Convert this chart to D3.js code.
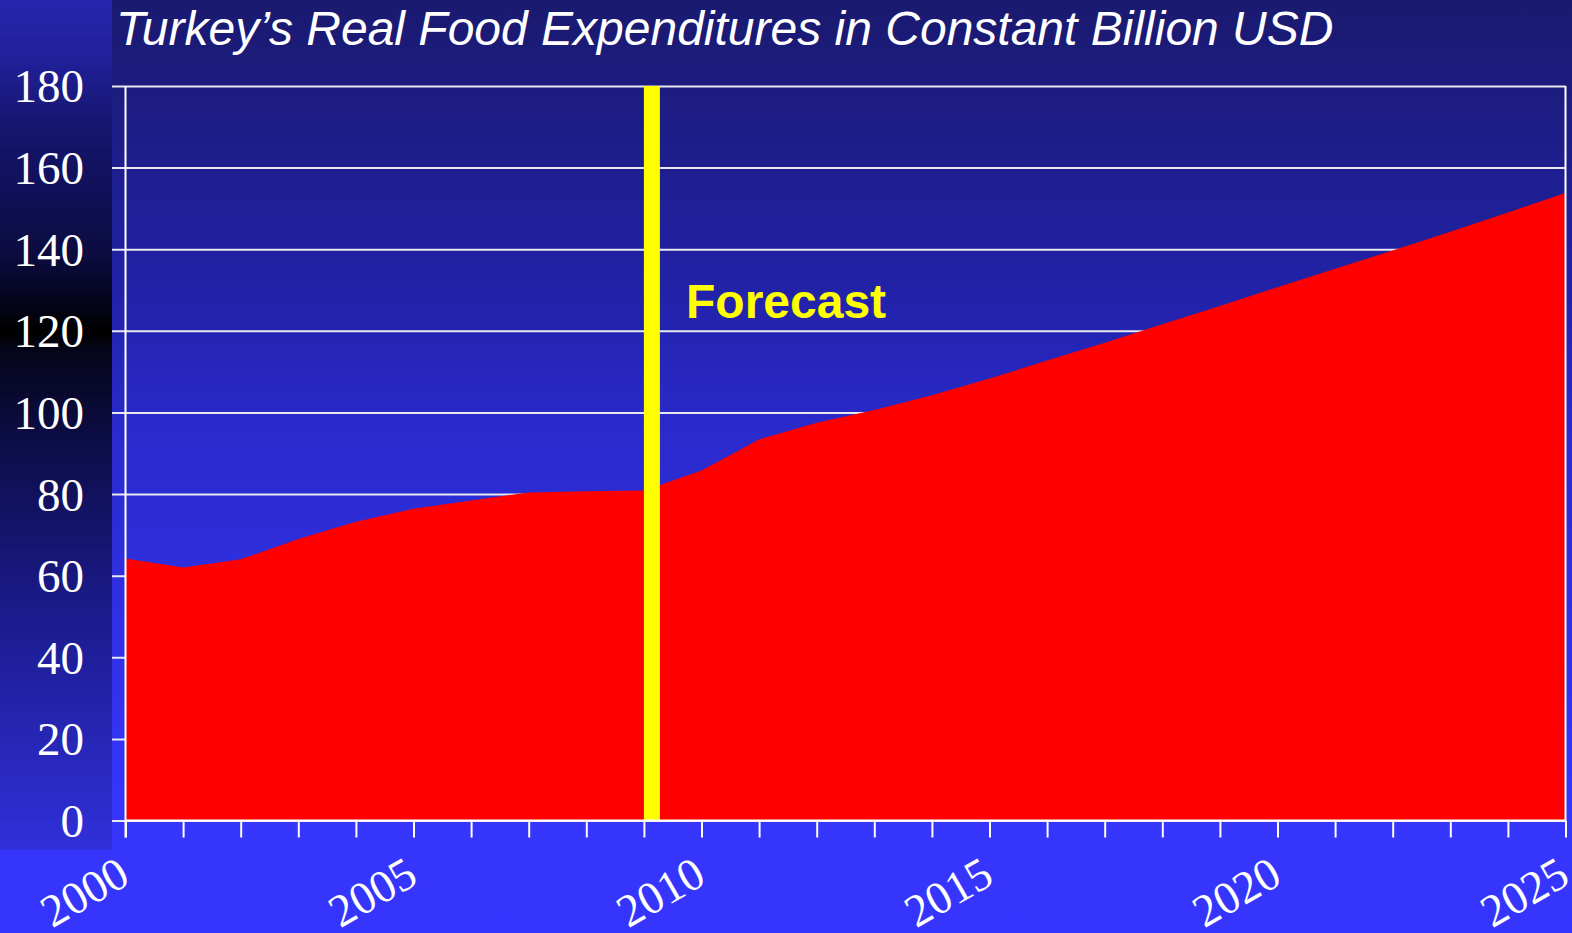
<!DOCTYPE html>
<html>
<head>
<meta charset="utf-8">
<script src="https://cdn.jsdelivr.net/npm/d3@7"></script>
<style>
    html, body { margin: 0; padding: 0; background: #1a1a70; }
    svg { display: block; }
</style>
</head>
<body>
<div id="chart"></div>
<script>
// data
const years = [2000, 2001, 2002, 2003, 2004, 2005, 2006, 2007, 2008, 2009, 2010, 2011, 2012,
               2013, 2014, 2015, 2016, 2017, 2018, 2019, 2020, 2021, 2022, 2023, 2024, 2025];
const expenditures = [64.2, 62.0, 64.0, 69.0, 73.2, 76.4, 78.4, 80.4, 80.7, 80.9, 85.8, 93.4, 97.5,
                      100.6, 104.2, 108.3, 112.7, 117.1, 121.6, 126.1, 130.7, 135.2, 139.7, 144.3, 149.0, 153.8];
const yTicks = [0, 20, 40, 60, 80, 100, 120, 140, 160, 180];
const labelYears = [2000, 2005, 2010, 2015, 2020, 2025];
const forecastStart = 2009;
const titleText = "Turkey\u2019s Real Food Expenditures in Constant Billion USD";
const forecastText = "Forecast";

const width_num = 1572,
    height_num = 933,
    plotLeft = 125.5,
    plotRight = 1565.5,
    plotTop = 86,
    plotBottom = 820.5,
    stripWidth = 112,
    stripHeight = 850,
    serif = "'Liberation Serif', 'Times New Roman', serif",
    sans = "'Liberation Sans', Arial, sans-serif";

let svg = d3.select("#chart")
    .append("svg")
    .attr("width", width_num)
    .attr("height", height_num);

// gradients for background and left strip
let defs = svg.append("defs");
let bgGrad = defs.append("linearGradient")
    .attr("id", "bgGrad")
    .attr("x1", 0).attr("y1", 0).attr("x2", 0).attr("y2", 1);
[[0, "#1a1a70"], [0.1, "#1c1c80"], [0.32, "#2222aa"], [0.46, "#2a2acc"],
 [0.6, "#2e2edc"], [0.85, "#3535fa"], [1, "#3535ff"]].forEach(s => {
    bgGrad.append("stop").attr("offset", s[0]).attr("stop-color", s[1]);
});
let stripGrad = defs.append("linearGradient")
    .attr("id", "stripGrad")
    .attr("x1", 0).attr("y1", 0).attr("x2", 0).attr("y2", 1);
[[0, "#2626ae"], [0.07, "#20209a"], [0.15, "#16166e"], [0.22, "#10105a"], [0.3, "#0c0c40"],
 [0.35, "#050520"], [0.39, "#000000"], [0.41, "#050518"], [0.52, "#0d0d48"],
 [0.72, "#1b1b8c"], [1, "#3030da"]].forEach(s => {
    stripGrad.append("stop").attr("offset", s[0]).attr("stop-color", s[1]);
});

svg.append("rect")
    .attr("width", width_num)
    .attr("height", height_num)
    .attr("fill", "url(#bgGrad)");

svg.append("rect")
    .attr("width", stripWidth)
    .attr("height", stripHeight)
    .attr("fill", "url(#stripGrad)");

// title
svg.append("text")
    .attr("x", 116)
    .attr("y", 45)
    .attr("fill", "#ffffff")
    .style("font-family", sans)
    .style("font-style", "italic")
    .style("font-size", "48px")
    .text(titleText);

// scales
let x = d3.scaleLinear()
    .domain([2000, 2025])
    .range([plotLeft, plotRight]);

let y = d3.scaleLinear()
    .domain([0, 180])
    .range([plotBottom, plotTop]);

// y grid + labels
let yAxis = svg.append("g")
    .attr("class", "axis")
    .attr("transform", "translate(" + stripWidth + ",0)")
    .call(d3.axisLeft(y).tickValues(yTicks).tickSize(-(plotRight - stripWidth)).tickPadding(28));
yAxis.select(".domain").attr("display", "none");
yAxis.selectAll("line")
    .attr("stroke", "#e8e8f0")
    .attr("stroke-width", 2);
yAxis.selectAll("text")
    .attr("fill", "#ffffff")
    .attr("dy", "0.34em")
    .style("font-family", serif)
    .style("font-size", "47px");

// area
let area = d3.area()
    .x((d, i) => x(years[i]))
    .y0(y(0))
    .y1(d => y(d));

svg.append("path")
    .datum(expenditures)
    .attr("fill", "#ff0000")
    .attr("d", area);

// forecast marker
svg.append("rect")
    .attr("x", x(forecastStart))
    .attr("y", y(180))
    .attr("width", 16)
    .attr("height", y(0) - y(180))
    .attr("fill", "#ffff00");

svg.append("text")
    .attr("x", 686)
    .attr("y", 318)
    .attr("fill", "#ffff00")
    .style("font-family", sans)
    .style("font-weight", "bold")
    .style("font-size", "48px")
    .text(forecastText);

// x axis
let xAxis = svg.append("g")
    .attr("class", "axis")
    .attr("transform", "translate(0," + plotBottom + ")")
    .call(d3.axisBottom(x).tickValues(years).tickSize(17)
        .tickFormat(d => labelYears.includes(d) ? d : ""));
xAxis.select(".domain")
    .attr("stroke", "#ffffff")
    .attr("stroke-width", 2)
    .attr("d", "M" + plotLeft + ",0H" + plotRight);
xAxis.selectAll("line")
    .attr("stroke", "#ffffff")
    .attr("stroke-width", 2);
xAxis.selectAll("text")
    .attr("x", 0)
    .attr("y", 0)
    .attr("dy", 0)
    .attr("text-anchor", "end")
    .attr("transform", "translate(6,62) rotate(-30)")
    .attr("fill", "#ffffff")
    .style("font-family", serif)
    .style("font-size", "46px");

// left axis line and right border
svg.append("line")
    .attr("x1", plotLeft).attr("x2", plotLeft)
    .attr("y1", plotTop).attr("y2", plotBottom + 17)
    .attr("stroke", "#ffffff")
    .attr("stroke-width", 2);
svg.append("line")
    .attr("x1", plotRight).attr("x2", plotRight)
    .attr("y1", plotTop).attr("y2", plotBottom)
    .attr("stroke", "#ffffff")
    .attr("stroke-width", 2);
</script>
</body>
</html>
